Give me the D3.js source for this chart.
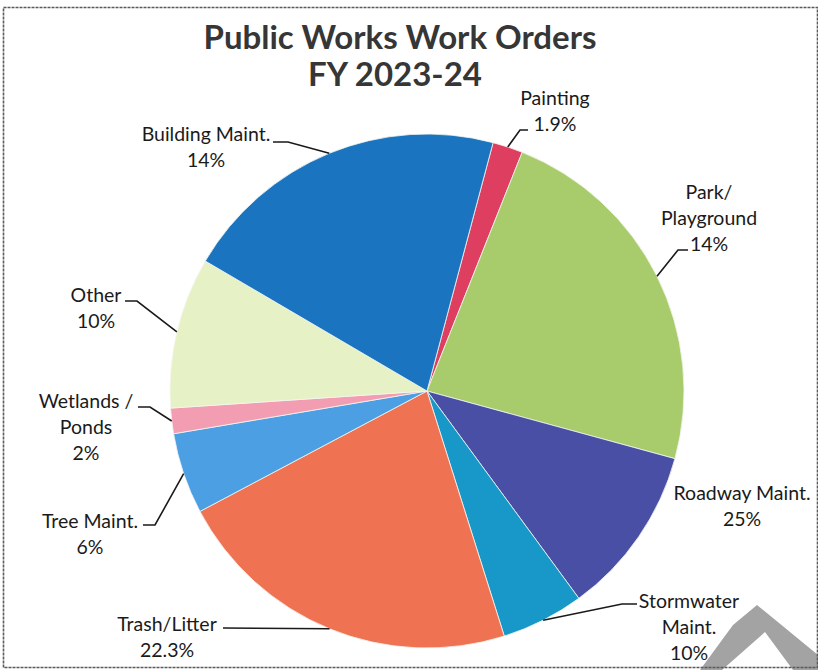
<!DOCTYPE html>
<html>
<head>
<meta charset="utf-8">
<script src="https://cdn.jsdelivr.net/npm/d3@7"></script>
<style>
  body { margin: 0; background: #fff; }
  svg { display: block; }
  .lbl { font-family: Lato, "Open Sans", sans-serif; font-size: 19.5px; fill: #1a1a1a; }
  .title { font-family: Lato, "Open Sans", sans-serif; font-weight: bold; font-size: 33px; fill: #363636; }
</style>
</head>
<body>
<div id="chart"></div>
<script>
// slice order, clockwise from the Painting wedge near the top
var categories = ['Painting', 'Park/Playground', 'Roadway Maint.', 'Stormwater Maint.', 'Trash/Litter',
                  'Tree Maint.', 'Wetlands / Ponds', 'Other', 'Building Maint.'];
// share of the circle as drawn
var values = [1.9, 23.2, 10.7, 5.2, 22.1, 5.1, 1.6, 9.5, 20.7];
// label text as printed in the picture
var labelLines = [['Painting'], ['Park/', 'Playground'], ['Roadway Maint.'], ['Stormwater', 'Maint.'],
                  ['Trash/Litter'], ['Tree Maint.'], ['Wetlands /', 'Ponds'], ['Other'], ['Building Maint.']];
var labelPcts = ['1.9%', '14%', '25%', '10%', '22.3%', '6%', '2%', '10%', '14%'];
var colors = ['#de3f60', '#a8cb6b', '#4a4fa6', '#1898c8', '#ef7252', '#4c9fe3', '#f29db2', '#e7f1c6', '#1b74c0'];

var width = 818, height = 670;
var cx = 427, cy = 391, radius = 257;
var lineH = 26;

// label placement: text centre x, first baseline y, leader points from text toward the wedge
var layout = [
  {x: 555, y: 105, leader: [[528, 130], [520, 130]]},
  {x: 709, y: 199, leader: [[688, 250], [678, 250]]},
  {x: 742, y: 500, leader: null},
  {x: 689, y: 608, leader: [[637, 604], [622, 604]]},
  {x: 167, y: 631, leader: [[223, 628]]},
  {x: 90,  y: 528, leader: [[143, 525], [155, 525]]},
  {x: 86,  y: 408, leader: [[138, 407], [150, 407]]},
  {x: 96,  y: 302, leader: [[125, 301], [137, 301]]},
  {x: 206, y: 141, leader: [[273, 142], [288, 142]]}
];

var data = categories.map(function(c, i) {
  return {name: c, value: values[i], lines: labelLines[i], pct: labelPcts[i], color: colors[i], pos: layout[i]};
});

var svg = d3.select('#chart').append('svg')
            .attr('width', width)
            .attr('height', height);

// faint scanner watermark letter in the corner
svg.append('path')
   .attr('d', 'M700,670 L733,625 L757,605 L818,655 L818,670 L793,670 L765,632 L722,670 Z')
   .attr('fill', '#a3a3a3');

// page frame
svg.append('rect')
   .attr('x', 3.5).attr('y', 7.5)
   .attr('width', 814).attr('height', 660)
   .attr('fill', 'none')
   .attr('stroke', '#5a5a5a')
   .attr('stroke-width', 1.6)
   .attr('stroke-dasharray', '3,1');

svg.append('text').attr('class', 'title')
   .attr('x', 400).attr('y', 49).attr('text-anchor', 'middle')
   .text('Public Works Work Orders');
svg.append('text').attr('class', 'title')
   .attr('x', 395).attr('y', 86).attr('text-anchor', 'middle')
   .text('FY 2023-24');

var startA = 14.9 * Math.PI / 180;
var pie = d3.pie().sort(null).value(function(d) { return d.value; })
            .startAngle(startA).endAngle(startA + 2 * Math.PI);
var arc = d3.arc().innerRadius(0).outerRadius(radius);

var arcs = pie(data);

var g = svg.append('g').attr('transform', 'translate(' + cx + ',' + cy + ')');

g.selectAll('path.slice')
 .data(arcs)
 .enter()
 .append('path')
 .attr('class', 'slice')
 .attr('d', arc)
 .attr('fill', function(d) { return d.data.color; })
 .attr('stroke', '#f4f6f0')
 .attr('stroke-width', 0.8);

// leader lines to mid-angle of each wedge
arcs.forEach(function(d) {
  var p = d.data.pos;
  if (!p.leader) return;
  var mid = (d.startAngle + d.endAngle) / 2;
  var end = [cx + radius * Math.sin(mid), cy - radius * Math.cos(mid)];
  var pts = p.leader.concat([end]);
  svg.append('path')
     .attr('d', d3.line()(pts))
     .attr('fill', 'none')
     .attr('stroke', '#1a1a1a')
     .attr('stroke-width', 1.6);
});

var labels = svg.selectAll('text.lbl')
                .data(data)
                .enter()
                .append('text')
                .attr('class', 'lbl')
                .attr('text-anchor', 'middle');

labels.each(function(d) {
  var t = d3.select(this);
  var rows = d.lines.concat([d.pct]);
  rows.forEach(function(r, i) {
    t.append('tspan')
     .attr('x', d.pos.x)
     .attr('y', d.pos.y + i * lineH)
     .text(r);
  });
});
</script>
</body>
</html>
